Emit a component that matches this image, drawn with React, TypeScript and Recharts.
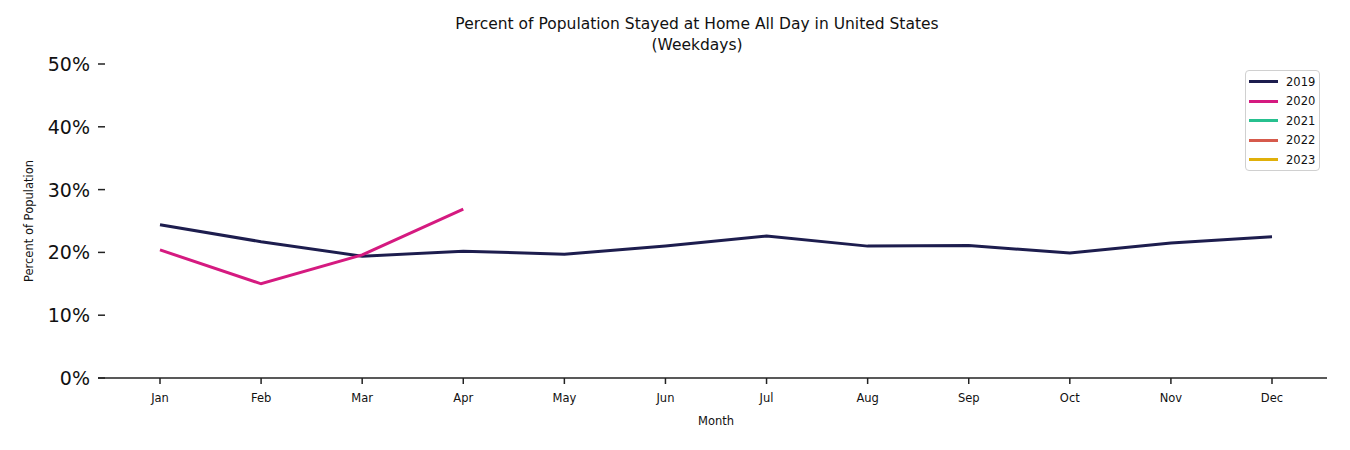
import { LineChart, Line, XAxis, YAxis } from 'recharts';

const months = ['Jan', 'Feb', 'Mar', 'Apr', 'May', 'Jun', 'Jul', 'Aug', 'Sep', 'Oct', 'Nov', 'Dec'];
const values2019 = [24.4, 21.7, 19.4, 20.2, 19.7, 21.0, 22.6, 21.0, 21.1, 19.9, 21.5, 22.5];
const values2020 = [20.4, 15.0, 19.6, 26.9];
const values2021: number[] = [];
const values2022: number[] = [];
const values2023: number[] = [];
const yTicks = [0, 10, 20, 30, 40, 50];

const series = [
  { key: '2019', values: values2019, color: '#1d1d4e' },
  { key: '2020', values: values2020, color: '#d51a80' },
  { key: '2021', values: values2021, color: '#27c08f' },
  { key: '2022', values: values2022, color: '#d65a4c' },
  { key: '2023', values: values2023, color: '#e0b00a' },
];

const data = months.map((month, i) => {
  const row: Record<string, string | number | undefined> = { month };
  series.forEach((s) => {
    row[s.key] = s.values[i];
  });
  return row;
});

const FONT = 'DejaVu Sans, sans-serif';

function YTick({ x, y, payload }: any) {
  return (
    <g>
      <line x1={x} x2={x + 7} y1={y} y2={y} stroke="#222" strokeWidth={1.5} />
      <text
        x={x - 8}
        y={y}
        textAnchor="end"
        dominantBaseline="central"
        fontSize={19}
        fontFamily={FONT}
        fill="#111"
      >
        {payload.value}%
      </text>
    </g>
  );
}

export default function App() {
  return (
    <div style={{ position: 'absolute', left: 0, top: 0, width: 1350, height: 450, background: '#fff' }}>
      <div
        style={{
          position: 'absolute',
          left: 0,
          width: 1394,
          top: 14,
          textAlign: 'center',
          fontFamily: FONT,
          fontSize: 15.5,
          lineHeight: '21px',
          color: '#111',
        }}
      >
        Percent of Population Stayed at Home All Day in United States
        <br />
        (Weekdays)
      </div>
      <div
        style={{
          position: 'absolute',
          left: 29,
          top: 221,
          transform: 'translate(-50%, -50%) rotate(-90deg)',
          whiteSpace: 'nowrap',
          fontFamily: FONT,
          fontSize: 11.5,
          color: '#111',
        }}
      >
        Percent of Population
      </div>
      <div
        style={{
          position: 'absolute',
          left: 716,
          top: 421,
          transform: 'translate(-50%, -50%)',
          fontFamily: FONT,
          fontSize: 11.5,
          color: '#111',
        }}
      >
        Month
      </div>
      <div
        style={{
          position: 'absolute',
          left: 1245,
          top: 70,
          zIndex: 2,
          border: '1.5px solid #d0d0d0',
          borderRadius: 4,
          background: '#fff',
          padding: '1px 4px 0px 3px',
          fontFamily: FONT,
          fontSize: 11.5,
          color: '#111',
        }}
      >
        {series.map((s) => (
          <div key={s.key} style={{ display: 'flex', alignItems: 'center', height: 19.5 }}>
            <span
              style={{ display: 'inline-block', width: 29, height: 3, background: s.color, marginRight: 8 }}
            />
            <span>{s.key}</span>
          </div>
        ))}
      </div>
      <LineChart width={1350} height={450} data={data} margin={{ top: 64, right: 23, bottom: 42, left: 0 }}>
        <XAxis
          dataKey="month"
          height={30}
          padding={{ left: 62, right: 55 }}
          axisLine={{ stroke: '#222', strokeWidth: 1.5 }}
          tickLine={{ stroke: '#222', strokeWidth: 1.5 }}
          tickSize={6}
          tickMargin={10}
          tick={{ fontSize: 11.5, fontFamily: FONT, fill: '#111' }}
          interval={0}
        />
        <YAxis
          width={98}
          domain={[0, 50]}
          ticks={yTicks}
          axisLine={false}
          tickLine={false}
          tickSize={0}
          tickMargin={0}
          tick={<YTick />}
          interval={0}
        />
        {series.map((s) => (
          <Line
            key={s.key}
            dataKey={s.key}
            name={s.key}
            stroke={s.color}
            strokeWidth={3}
            dot={false}
            activeDot={false}
            isAnimationActive={false}
          />
        ))}
      </LineChart>
    </div>
  );
}
